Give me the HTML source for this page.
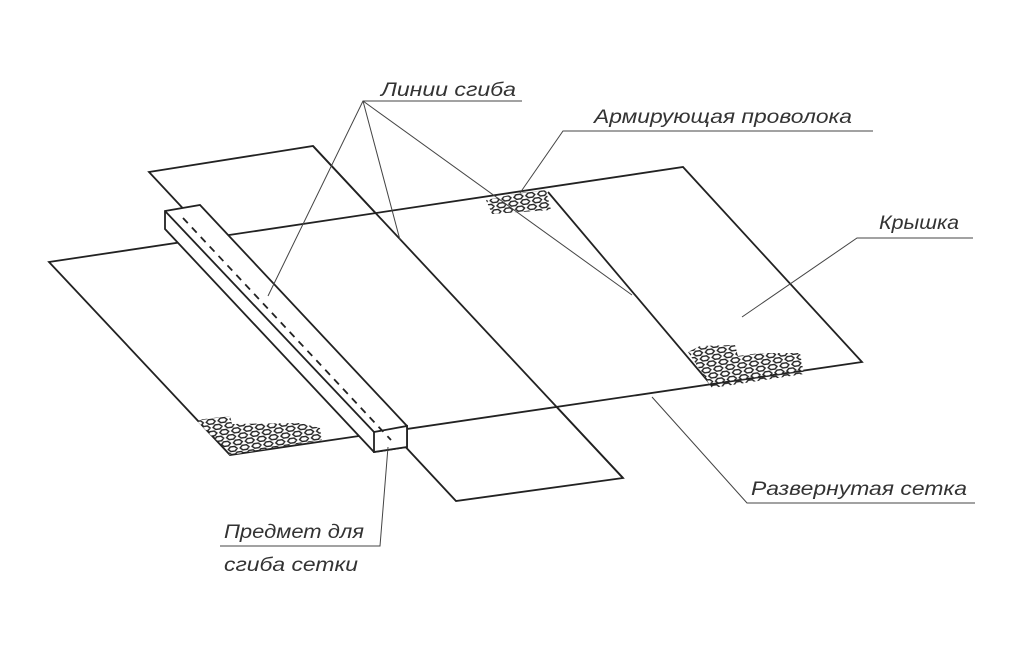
<!DOCTYPE html>
<html><head><meta charset="utf-8"><style>
html,body{margin:0;padding:0;background:#fff;}
svg{display:block}
text{font-family:"Liberation Sans",sans-serif;font-style:italic;font-size:19px;fill:#333;}
</style></head><body>
<svg width="1024" height="652" viewBox="0 0 1024 652" xmlns="http://www.w3.org/2000/svg">
<defs>
<pattern id="hx" width="12" height="12" patternUnits="userSpaceOnUse" patternTransform="rotate(-8)">
<g fill="#fff" stroke="#222" stroke-width="1.4">
<polygon points="1.5,3 3.8,0.7 8.2,0.7 10.5,3 8.2,5.3 3.8,5.3"/>
<polygon points="-4.5,9 -2.2,6.7 2.2,6.7 4.5,9 2.2,11.3 -2.2,11.3"/>
<polygon points="7.5,9 9.8,6.7 14.2,6.7 16.5,9 14.2,11.3 9.8,11.3"/>
</g>
</pattern>
<clipPath id="c1"><polygon points="196,420 230,416 232,424 300,423 320,428 322,440 230,455"/></clipPath>
<clipPath id="c2"><polygon points="486,200 520,193 546,190 551,210 492,214"/></clipPath>
<clipPath id="c3"><polygon points="688,352 700,346 735,345 738,356 760,353 800,353 804,374 712,388"/></clipPath>
</defs>
<g stroke="#222" stroke-width="1.8" fill="#fff" stroke-linejoin="miter">
<polygon points="149,172 313,146 623,478 456,501"/>
<polygon points="49,262 683,167 862,362 230,455"/>
<line x1="313" y1="146" x2="623" y2="478"/>
<line x1="548" y1="192" x2="712" y2="386"/>
</g>
<rect x="180" y="400" width="150" height="60" fill="url(#hx)" clip-path="url(#c1)"/>
<rect x="480" y="185" width="80" height="35" fill="url(#hx)" clip-path="url(#c2)"/>
<rect x="680" y="340" width="130" height="55" fill="url(#hx)" clip-path="url(#c3)"/>
<g stroke="#222" stroke-width="1.8" fill="#fff">
<polygon points="165,211 200,205 407,426 407,447 374,452 165,229"/>
<line x1="165" y1="211" x2="374" y2="432"/>
<polygon points="374,432 407,426 407,447 374,452"/>
<line x1="183" y1="218" x2="391" y2="440" stroke-dasharray="7,6"/>
</g>
<g stroke="#444" stroke-width="1" fill="none">
<polyline points="522,101 363,101 268,296"/>
<line x1="363" y1="101" x2="400" y2="240"/>
<line x1="363" y1="101" x2="632" y2="295"/>
<polyline points="873,131 563,131 520,193"/>
<polyline points="973,238 857,238 742,317"/>
<polyline points="975,503 747,503 652,397"/>
<polyline points="220,546 380,546 388,447"/>
</g>
<text x="381" y="96" textLength="135" lengthAdjust="spacingAndGlyphs">Линии сгиба</text>
<text x="594" y="123" textLength="258" lengthAdjust="spacingAndGlyphs">Армирующая проволока</text>
<text x="879" y="229" textLength="80" lengthAdjust="spacingAndGlyphs">Крышка</text>
<text x="751" y="495" textLength="216" lengthAdjust="spacingAndGlyphs">Развернутая сетка</text>
<text x="224" y="538" textLength="140" lengthAdjust="spacingAndGlyphs">Предмет для</text>
<text x="224" y="571" textLength="134" lengthAdjust="spacingAndGlyphs">сгиба сетки</text>
</svg>
</body></html>
